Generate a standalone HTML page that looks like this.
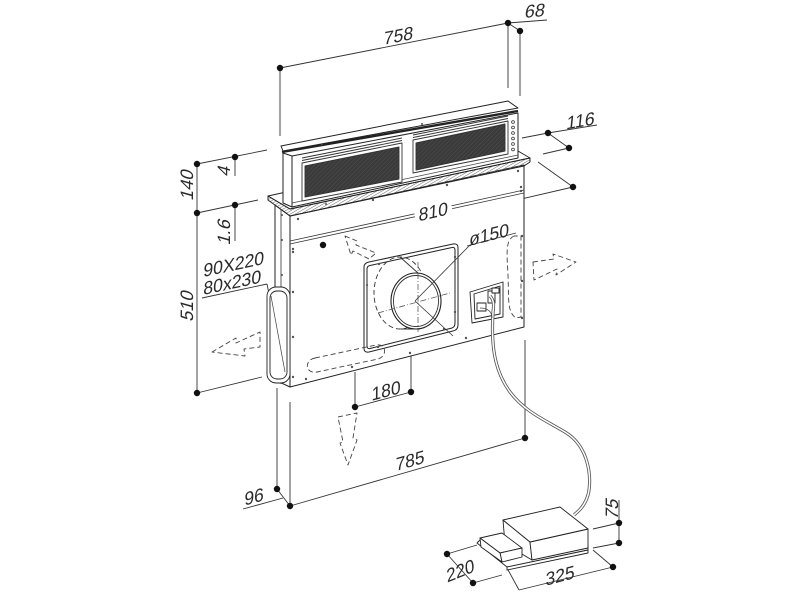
<!DOCTYPE html>
<html><head><meta charset="utf-8"><style>
html,body{margin:0;padding:0;background:#fff;}
svg{display:block;}
text{font-family:"Liberation Sans","DejaVu Sans",sans-serif;fill:#2a2a2a;}
</style></head><body>
<svg width="800" height="600" viewBox="0 0 800 600" xmlns="http://www.w3.org/2000/svg">
<defs>
<pattern id="hatch" width="2.6" height="2.6" patternUnits="userSpaceOnUse" patternTransform="rotate(60)">
<line x1="0" y1="0" x2="0" y2="2.6" stroke="#666" stroke-width="1"/>
</pattern>
<pattern id="mesh" width="3" height="3" patternUnits="userSpaceOnUse" patternTransform="rotate(45)">
<rect width="3" height="3" fill="#3a3a3a"/>
<line x1="0" y1="0" x2="0" y2="3" stroke="#555" stroke-width="0.8"/>
</pattern>
</defs>

<g stroke="#333" stroke-width="0.9" fill="none">
  <line x1="280" y1="68" x2="508" y2="23"/>
  <line x1="508" y1="23" x2="547" y2="20"/>
  <line x1="508" y1="23" x2="520" y2="31"/>
  <line x1="280" y1="68" x2="280" y2="136"/>
  <line x1="508" y1="23" x2="508" y2="88"/>
  <line x1="520" y1="31" x2="520" y2="96"/>
  <line x1="522" y1="138" x2="548" y2="133"/>
  <line x1="548" y1="133" x2="597" y2="125"/>
  <line x1="543" y1="154" x2="569" y2="148"/>
  <line x1="548" y1="133" x2="569" y2="148"/>
  <line x1="538" y1="162" x2="573" y2="187"/>
  <line x1="283" y1="213" x2="323" y2="245"/>
  <line x1="323" y1="245" x2="573" y2="187"/>
  <line x1="197" y1="164" x2="197" y2="393"/>
  <line x1="197" y1="164" x2="267" y2="150"/>
  <line x1="235" y1="157" x2="235" y2="176"/>
  <line x1="197" y1="213" x2="258" y2="200"/>
  <line x1="235" y1="205" x2="235" y2="241"/>
  <line x1="197" y1="393" x2="262" y2="377"/>
  <line x1="202" y1="298" x2="267" y2="284"/>
  <line x1="267" y1="284" x2="277" y2="333"/>
  <line x1="277" y1="388" x2="277" y2="489"/>
  <line x1="290" y1="402" x2="290" y2="506"/>
  <line x1="277" y1="489" x2="290" y2="506"/>
  <line x1="243" y1="509" x2="283" y2="498"/>
  <line x1="290" y1="506" x2="525" y2="438"/>
  <line x1="525" y1="340" x2="525" y2="438"/>
  <line x1="355" y1="372" x2="355" y2="407"/>
  <line x1="411" y1="352" x2="411" y2="392"/>
  <line x1="355" y1="407" x2="411" y2="392"/>
  <line x1="619" y1="500" x2="619" y2="543"/>
  <line x1="593" y1="529" x2="619" y2="523"/>
  <line x1="593" y1="548" x2="619" y2="543"/>
  <line x1="447" y1="554" x2="477" y2="545"/>
  <line x1="447" y1="554" x2="473" y2="583"/>
  <line x1="473" y1="583" x2="502" y2="575"/>
  <line x1="593" y1="550" x2="613" y2="567"/>
  <line x1="507" y1="568" x2="519" y2="590"/>
  <line x1="519" y1="590" x2="613" y2="567"/>
</g>

<g stroke="#222" stroke-width="1" fill="#fff" stroke-linejoin="round">
  <polygon points="275,205 290,216 290,387 275,380"/>
  <polygon points="290,216 524,165 524,327 290,387"/>
</g>
<g stroke="#333" stroke-width="0.8" fill="none">
  <line x1="290" y1="241" x2="524" y2="190"/>
  <line x1="290" y1="244" x2="524" y2="193"/>
  <line x1="281" y1="210" x2="281" y2="384"/>
</g>

<g stroke="#222" stroke-width="1" stroke-linejoin="round">
  <polygon points="268,196 290,209 530,158 518,151 300,189" fill="#fff"/>
  <polygon points="268,196 290,209 530,158 530,162 524,166 290,216 268,200" fill="url(#hatch)"/>
</g>

<g stroke="#222" stroke-width="1" stroke-linejoin="round" fill="#fff">
  <polygon points="283,153 292,156 292,207 283,203"/>
  <polygon points="292,156 518,113 518,158 292,207"/>
  <polygon points="281,146 508,101 518,108 283,151"/>
</g>
<line x1="282" y1="152" x2="518" y2="111" stroke="#222" stroke-width="2.4"/>
<line x1="292" y1="203" x2="518" y2="155" stroke="#444" stroke-width="0.7"/>
<g stroke="#333" stroke-width="0.9" stroke-linejoin="round">
  <polygon points="302,163 402,143 402,182 302,201" fill="#fff"/>
  <polygon points="305,166 399,147 399,179 305,197" fill="url(#mesh)"/>
  <polygon points="413,140 508,121 508,154 413,173" fill="#fff"/>
  <polygon points="416,143 505,124 505,151 416,170" fill="url(#mesh)"/>
  <g fill="none">
    <line x1="302" y1="158" x2="402" y2="138"/>
    <line x1="302" y1="160.5" x2="402" y2="140.5"/>
    <line x1="413" y1="135" x2="508" y2="116"/>
    <line x1="413" y1="137.5" x2="508" y2="118.5"/>
  </g>
</g>
<g fill="#fff" stroke="#333" stroke-width="0.8">
  <circle cx="513" cy="122" r="1.4"/><circle cx="513" cy="127.5" r="1.4"/>
  <circle cx="513" cy="133" r="1.4"/><circle cx="513" cy="138.5" r="1.4"/>
  <circle cx="513" cy="144" r="1.4"/><circle cx="513" cy="149.5" r="1.4"/>
</g>

<g fill="#555">
  <circle cx="322" cy="144" r="1"/><circle cx="422" cy="124" r="1"/>
  <circle cx="298" cy="219" r="1.2"/><circle cx="293" cy="249" r="1.2"/>
  <circle cx="293" cy="252" r="1.2"/><circle cx="282" cy="215" r="1"/>
  <circle cx="282" cy="240" r="1"/><circle cx="282" cy="275" r="1"/>
  <circle cx="293" cy="292" r="1.2"/><circle cx="293" cy="337" r="1.2"/>
  <circle cx="293" cy="377" r="1.2"/>
  <circle cx="373" cy="200" r="1.2"/><circle cx="447" cy="185" r="1.2"/>
  <circle cx="518" cy="171" r="1.2"/><circle cx="521" cy="187" r="1.2"/>
  <circle cx="521" cy="191" r="1.2"/><circle cx="522" cy="236" r="1.2"/>
  <circle cx="522" cy="281" r="1.2"/><circle cx="522" cy="318" r="1.2"/>
  <circle cx="326" cy="204" r="1"/><circle cx="479" cy="175" r="1"/>
  <circle cx="466" cy="338" r="1.2"/><circle cx="410" cy="353" r="1.2"/>
  <circle cx="352" cy="367" r="1.2"/><circle cx="306" cy="379" r="1.2"/>
</g>

<g stroke="#222" stroke-width="1" fill="none" stroke-linejoin="round">
  <path d="M369,262 L453,244 Q458,243 458,248 L458,325 Q458,330 453,331 L369,352 Q364,353 364,348 L364,267 Q364,263 369,262 Z"/>
  <path d="M370,265.5 L452,247.5 Q455,247 455,250 L455,323 Q455,327 452,328 L370,348.5 Q367,349 367,346 L367,269 Q367,266 370,265.5 Z"/>
</g>
<g fill="#555">
  <circle cx="379" cy="264" r="1.2"/><circle cx="455" cy="257" r="1.2"/>
  <circle cx="455" cy="312" r="1.2"/><circle cx="378" cy="347" r="1.2"/>
  <circle cx="444" cy="329" r="1.2"/><circle cx="367" cy="285" r="1.1"/>
</g>
<g fill="none" stroke="#333" stroke-width="0.9">
  <ellipse cx="400" cy="293" rx="26" ry="36" stroke-dasharray="5,3"/>
  <line x1="400" y1="257" x2="418" y2="273"/>
  <line x1="401" y1="329" x2="420" y2="329"/>
</g>
<ellipse cx="416" cy="301" rx="25" ry="28" fill="#fff" stroke="#222" stroke-width="1.1"/>
<ellipse cx="416" cy="301" rx="22.5" ry="25.5" fill="none" stroke="#333" stroke-width="0.9"/>
<g stroke="#444" stroke-width="0.7" fill="none" stroke-dasharray="6,2,1,2">
  <line x1="418" y1="262" x2="418" y2="332"/>
  <line x1="378" y1="313" x2="450" y2="293"/>
</g>
<g stroke="#333" stroke-width="0.8">
  <line x1="415" y1="301" x2="470" y2="245"/>
  <line x1="467" y1="246" x2="516" y2="233"/>
  <line x1="415" y1="301" x2="453" y2="336"/>
</g>

<g stroke="#222" stroke-width="0.9" fill="#fff" stroke-linejoin="round">
  <polygon points="470,292 503,282 503,317 472,323"/>
  <polygon points="474,294 500,286 500,314 475,319" fill="none"/>
  <rect x="477" y="303" width="9" height="8" fill="#fff"/>
  <rect x="488" y="291" width="7" height="12" fill="#fff"/>
  <rect x="492" y="288" width="7" height="5" fill="#fff"/>
</g>
<path d="M490,296 C494,300 494,305 493,312 C491,345 494,370 510,392 C525,412 545,420 565,432 C590,447 592,480 588,495 C585,505 580,510 574,515" fill="none" stroke="#555" stroke-width="3.2"/>
<path d="M490,296 C494,300 494,305 493,312 C491,345 494,370 510,392 C525,412 545,420 565,432 C590,447 592,480 588,495 C585,505 580,510 574,515" fill="none" stroke="#fff" stroke-width="1.5"/>
<path d="M480,308 C488,308 492,312 492,318" fill="none" stroke="#444" stroke-width="0.8"/>

<g stroke="#222" stroke-width="0.9" fill="#fff">
  <rect x="267" y="287" width="23" height="96" rx="9"/>
  <rect x="270" y="291" width="17" height="88" rx="7" fill="none"/>
</g>
<line x1="271" y1="296" x2="285" y2="372" stroke="#444" stroke-width="0.7"/>

<g fill="none" stroke="#444" stroke-width="0.9" stroke-dasharray="5,3" stroke-linejoin="round">
  <path d="M514,236 C505,240 507,255 508,275 C509,300 507,312 516,318 L521,317 L521,236 Z"/>
  <polygon points="533,262 554,259 553,254 576,262 556,275 557,269 534,280"/>
  <polygon points="212,352 236,338 236,343 260,332 260,347 244,349 245,356"/>
  <polygon points="345,236 357,241 356,245 376,253 369,259 353,251 351,255"/>
  <polygon points="338,417 357,413 353,438 357,440 348,465 340,443 343,442"/>
  <path d="M315,358 L376,345 C386,343 388,356 378,359 L317,372 C305,374 304,360 315,358 Z"/>
</g>

<g stroke="#222" stroke-width="0.9" fill="#fff" stroke-linejoin="round">
  <polygon points="477,543 507,567 588,550 588,546 560,534 480,540"/>
  <polygon points="507,567 588,550 588,553 507,570"/>
  <polygon points="503,520 530,542 532,560 505,544"/>
  <polygon points="530,542 588,529 588,548 532,560"/>
  <polygon points="503,520 560,507 588,529 530,542"/>
  <polygon points="480,538 502,533 522,548 500,553"/>
  <polygon points="500,553 522,548 522,557 502,562"/>
  <polygon points="480,538 500,553 502,562 481,547"/>
</g>

<g fill="#111">
  <circle cx="280" cy="68" r="3.2"/><circle cx="508" cy="23" r="3.2"/><circle cx="520" cy="31" r="3.2"/>
  <circle cx="548" cy="133" r="3.2"/><circle cx="569" cy="148" r="3.2"/>
  <circle cx="573" cy="187" r="3.2"/><circle cx="323" cy="245" r="3.2"/>
  <circle cx="197" cy="164" r="3.2"/><circle cx="235" cy="157" r="3.2"/>
  <circle cx="197" cy="213" r="3.2"/><circle cx="235" cy="205" r="3.2"/>
  <circle cx="197" cy="393" r="3.2"/>
  <circle cx="277" cy="489" r="3.2"/><circle cx="290" cy="506" r="3.2"/>
  <circle cx="525" cy="438" r="3.2"/>
  <circle cx="355" cy="407" r="3.2"/><circle cx="411" cy="392" r="3.2"/>
  <circle cx="619" cy="523" r="3.2"/><circle cx="619" cy="543" r="3.2"/>
  <circle cx="447" cy="554" r="3.2"/><circle cx="473" cy="583" r="3.2"/>
  <circle cx="613" cy="567" r="3.2"/>
</g>

<g font-size="18">
  <text text-anchor="middle" transform="translate(398,42) rotate(-11) skewX(-16)">758</text>
  <text text-anchor="middle" transform="translate(534,17) rotate(-6) skewX(-16)">68</text>
  <text text-anchor="middle" transform="translate(580,127) rotate(-10) skewX(-16)">116</text>
  <rect x="414" y="199" width="38" height="21" fill="#fff" transform="rotate(-13 433 210)"/>
  <text text-anchor="middle" transform="translate(433,218) rotate(-13) skewX(-16)">810</text>
  <text transform="translate(469,246) rotate(-14) skewX(-16)">ø150</text>
  <text text-anchor="middle" transform="translate(386,397) rotate(-15) skewX(-16)">180</text>
  <text text-anchor="middle" transform="translate(410,467) rotate(-16) skewX(-16)">785</text>
  <text text-anchor="middle" transform="translate(254,503) rotate(-15) skewX(-16)">96</text>
  <text text-anchor="middle" transform="translate(461,577) rotate(-22) skewX(-16)">220</text>
  <text text-anchor="middle" transform="translate(560,582) rotate(-15) skewX(-16)">325</text>
  <text transform="translate(203,277) rotate(-12) skewX(-16)">90X220</text>
  <text transform="translate(203,295) rotate(-12) skewX(-16)">80x230</text>
  <text text-anchor="middle" transform="translate(193,186) rotate(-90) skewX(-16)">140</text>
  <text text-anchor="middle" transform="translate(193,307) rotate(-90) skewX(-16)">510</text>
  <text text-anchor="middle" transform="translate(230,172) rotate(-90) skewX(-16)">4</text>
  <text text-anchor="middle" transform="translate(230,233) rotate(-90) skewX(-16)">1.6</text>
  <text text-anchor="middle" transform="translate(618,510) rotate(-90) skewX(-16)">75</text>
</g>
</svg>
</body></html>
